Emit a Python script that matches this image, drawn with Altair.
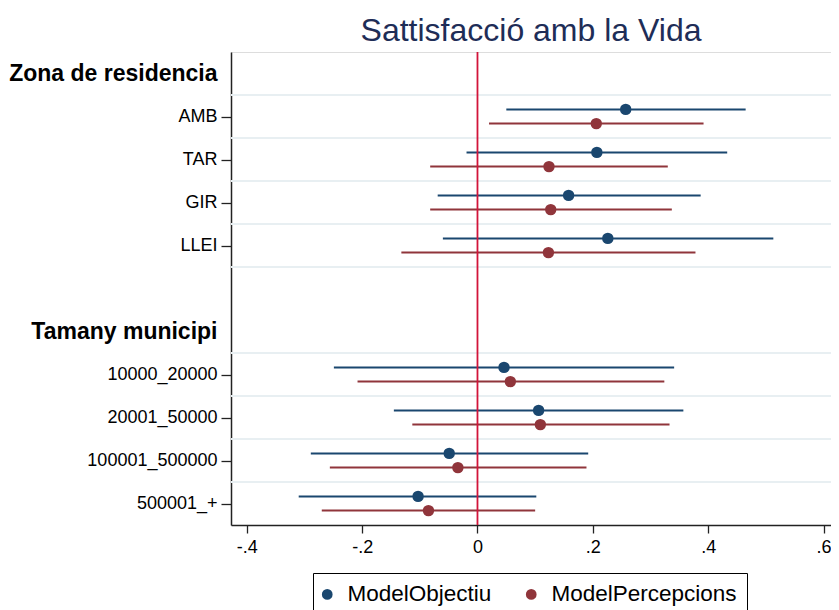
import altair as alt
import pandas as pd

# ---- data ----
row_labels = ["Zona de residencia", "AMB", "TAR", "GIR", "LLEI", "",
              "Tamany municipi", "10000_20000", "20001_50000", "100001_500000", "500001_+"]
header_rows = [0, 6]
categories = ["AMB", "TAR", "GIR", "LLEI",
              "10000_20000", "20001_50000", "100001_500000", "500001_+"]
series = ["ModelObjectiu", "ModelPercepcions"]
colors = ["#1a476f", "#90353b"]

obj_coef = [0.257, 0.207, 0.158, 0.226, 0.046, 0.106, -0.049, -0.103]
obj_lo = [0.050, -0.019, -0.069, -0.060, -0.249, -0.145, -0.289, -0.310]
obj_hi = [0.465, 0.433, 0.387, 0.513, 0.341, 0.357, 0.192, 0.102]

per_coef = [0.206, 0.124, 0.127, 0.123, 0.057, 0.109, -0.034, -0.085]
per_lo = [0.020, -0.082, -0.082, -0.132, -0.208, -0.113, -0.256, -0.270]
per_hi = [0.392, 0.330, 0.337, 0.378, 0.324, 0.333, 0.189, 0.100]

x_ticks = [-0.4, -0.2, 0.0, 0.2, 0.4, 0.6]
x_tick_labels = ["-.4", "-.2", "0", ".2", ".4", ".6"]

# ---- build table ----
offsets = {"ModelObjectiu": -0.165, "ModelPercepcions": 0.165}
recs = []
for s, coef, lo, hi in [("ModelObjectiu", obj_coef, obj_lo, obj_hi),
                        ("ModelPercepcions", per_coef, per_lo, per_hi)]:
    for c, b, l, h in zip(categories, coef, lo, hi):
        r = row_labels.index(c)
        recs.append({"cat": c, "series": s, "coef": b, "lo": l, "hi": h,
                     "ypos": r + offsets[s]})
df = pd.DataFrame(recs)

tick_rows = [i for i, lab in enumerate(row_labels) if lab != ""]
grid_rows = [r + 0.5 for r in tick_rows]
grid_rows = [g for g in grid_rows if g < len(row_labels) - 1]
grid_df = pd.DataFrame({"g": grid_rows})
zero_df = pd.DataFrame({"z": [0.0]})

label_arr = "[" + ",".join("'" + l + "'" for l in row_labels) + "]"
xlab_arr = "[" + ",".join("'" + l + "'" for l in x_tick_labels) + "]"
hdr_test = " || ".join(f"datum.value == {h}" for h in header_rows)

FONT = "Liberation Sans"
xscale = alt.Scale(domain=[-0.4274, 0.613], nice=False, zero=False)
yscale = alt.Scale(domain=[-0.5, 10.5], reverse=True, nice=False, zero=False)

y_axis = alt.Axis(
    values=tick_rows,
    labelExpr=f"{label_arr}[datum.value]",
    labelFontSize={"condition": {"test": hdr_test, "value": 23}, "value": 18},
    labelFontWeight={"condition": {"test": hdr_test, "value": "bold"}, "value": "normal"},
    tickOpacity={"condition": {"test": hdr_test, "value": 0}, "value": 1},
    tickSize=10, tickWidth=1.3, tickColor="#222222",
    labelPadding=4, labelLimit=400, labelColor="black", labelFont=FONT,
    domainColor="#222222", domainWidth=1.5, grid=False, title=None,
    labelOverlap=False,
)
x_axis = alt.Axis(
    values=x_ticks,
    labelExpr=f"{xlab_arr}[round((datum.value + 0.4) / 0.2)]",
    labelFontSize=18, labelFont=FONT, labelColor="black",
    tickSize=8, tickWidth=1.3, tickColor="#222222",
    domainColor="#222222", domainWidth=1.5, labelPadding=5,
    labelFlush=False, grid=False, title=None, labelOverlap=False,
)

color_scale = alt.Scale(domain=series, range=colors)

grid = alt.Chart(grid_df).mark_rule(color="#e8eff2", strokeWidth=2).encode(
    y=alt.Y("g:Q", scale=yscale, axis=y_axis)
)

ci = alt.Chart(df).mark_rule(strokeWidth=2).encode(
    x=alt.X("lo:Q", scale=xscale, axis=x_axis),
    x2="hi:Q",
    y=alt.Y("ypos:Q", scale=yscale, axis=y_axis),
    color=alt.Color("series:N", scale=color_scale, legend=None),
)

zero = alt.Chart(zero_df).mark_rule(color="#d2143a", strokeWidth=1.8).encode(
    x=alt.X("z:Q", scale=xscale, axis=x_axis)
)

pts = alt.Chart(df).mark_point(filled=True, shape="circle", size=130, opacity=1).encode(
    x=alt.X("coef:Q", scale=xscale, axis=x_axis),
    y=alt.Y("ypos:Q", scale=yscale, axis=y_axis),
    color=alt.Color("series:N", scale=color_scale, legend=alt.Legend(
        title=None, orient="none", legendX=82, legendY=521, direction="horizontal",
        strokeColor="black", padding=10, symbolType="circle", symbolSize=115,
        symbolStrokeWidth=0, labelFontSize=22.5, labelFont=FONT, labelColor="black",
        labelOffset=9, columnPadding=33, symbolOpacity=1, labelLimit=400,
        symbolOffset=-7,
    )),
)

chart = alt.layer(grid, ci, zero, pts).resolve_legend(color="independent").properties(
    width=600, height=473,
    padding={"left": 223, "top": 44, "right": 0, "bottom": 85},
    autosize=alt.AutoSizeParams(type="none"),
    title=alt.Title("Sattisfacció amb la Vida", font=FONT, fontSize=32,
                    fontWeight="normal", color="#1e2d57", anchor="middle",
                    frame="group", offset=3),
).configure_view(stroke=None).configure(background="white")

chart.save("out.html", embed_options={"renderer": "svg", "actions": False})
